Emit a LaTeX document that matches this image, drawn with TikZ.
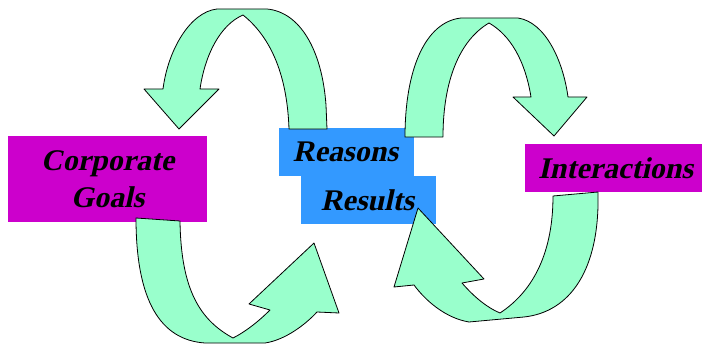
\documentclass[tikz,border=0pt]{standalone}
\usepackage{fontspec}
\newfontfamily\labelfont{Liberation Serif}[FakeSlant=0.22]
\definecolor{ribbon}{HTML}{99FFCC}
\definecolor{goalpink}{HTML}{CC00CC}
\definecolor{reasonblue}{HTML}{3399FF}
\begin{document}
\begin{tikzpicture}[x=1pt,y=-1pt,
  box/.style={rectangle, inner sep=0pt, outer sep=0pt, align=center,
    font=\labelfont\fontsize{30}{37}\selectfont\bfseries},
  ribbonarrow/.style={fill=ribbon, draw=black, line width=0.8pt, line join=round}]
\useasboundingbox (0,0) rectangle (702,345);
% boxes
\node[box, fill=goalpink, minimum width=199pt, minimum height=86pt] (cg) at (107.5,179) {Corporate\\Goals};
\node[box, fill=reasonblue, minimum width=135pt, minimum height=48pt] (reasons) at (346.5,152) {\hspace*{-2pt}Reasons};
\node[box, fill=reasonblue, minimum width=135pt, minimum height=48pt] (results) at (368.5,200) {\hspace*{-2pt}Results};
\node[box, fill=goalpink, minimum width=177pt, minimum height=48pt] (inter) at (613.5,168) {\hspace*{4pt}Interactions};
% top-left arrow: Reasons -> Corporate Goals
\draw[ribbonarrow] (327,129) -- (326,105) .. controls (322,50) and (300,12) .. (267,9)
  -- (217,9) .. controls (190,12) and (168,50) .. (163,89)
  -- (144,89) -- (179,129) -- (219,89) -- (200,89)
  .. controls (205,55) and (220,25) .. (243,15)
  .. controls (268,35) and (287,70) .. (289,129) -- cycle;
% bottom-left arrow: Corporate Goals -> Results
\draw[ribbonarrow] (136,218) .. controls (136,300) and (160,340) .. (205,343)
  -- (265,343) .. controls (285,340) and (305,325) .. (317,312)
  -- (339,313) -- (314,243) -- (249,304) -- (270,310)
  .. controls (258,322) and (245,332) .. (233,338)
  .. controls (200,320) and (181,290) .. (180,221) -- cycle;
% top-right arrow: Reasons -> Interactions
\draw[ribbonarrow] (405,137) .. controls (405,70) and (425,22) .. (461,18)
  -- (518,18) .. controls (545,22) and (563,60) .. (568,97)
  -- (587,97) -- (554,136) -- (513,97) -- (531,97)
  .. controls (525,60) and (510,35) .. (489,23)
  .. controls (460,40) and (443,80) .. (443,137) -- cycle;
% bottom-right arrow: Interactions -> Results
\draw[ribbonarrow] (598,192) .. controls (600,270) and (570,312) .. (524,317)
  -- (469,322) .. controls (445,318) and (425,300) .. (414,285)
  -- (394,287) -- (418,208) -- (484,279) -- (462,283)
  .. controls (475,298) and (488,308) .. (500,313)
  .. controls (535,290) and (553,250) .. (553,196) -- cycle;
\end{tikzpicture}
\end{document}
